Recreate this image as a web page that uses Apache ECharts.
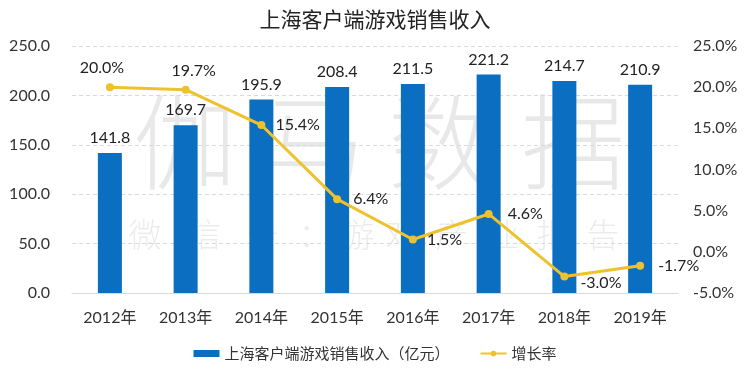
<!DOCTYPE html>
<html><head><meta charset="utf-8">
<script src="https://cdn.jsdelivr.net/npm/echarts@6/dist/echarts.min.js"></script>
<style>html,body{margin:0;padding:0;background:#fff}#c{width:750px;height:377px}</style>
</head><body><div id="c"></div>
<script>
var categories = ['2012年','2013年','2014年','2015年','2016年','2017年','2018年','2019年'];
var revenue = [141.8,169.7,195.9,208.4,211.5,221.2,214.7,210.9];
var growth = [20.0,19.7,15.4,6.4,1.5,4.6,-3.0,-1.7];
var titleText = '上海客户端游戏销售收入';
var revenueName = '上海客户端游戏销售收入（亿元）';
var growthName = '增长率';
var wmBig = ['伽','马','数','据'];
var wmSmall = ['微','信','号','：','游','戏','产','业','报','告'];

var FONT = "Lato, 'Noto Sans CJK SC', sans-serif";
var CJK = "'Noto Sans CJK SC', sans-serif";
var wmBigX = [185,313,440,573];
var wmSmallX = [145,205,263,315,358,402,452,503,553,603];
var graphics = [];
wmBig.forEach(function(ch,i){
  graphics.push({type:'text', z:-10, x:wmBigX[i], y:142, style:{text:ch, fill:'rgba(0,0,0,0.09)', font:'300 104px '+CJK, textAlign:'center', textVerticalAlign:'middle'}});
});
wmSmall.forEach(function(ch,i){
  graphics.push({type:'text', z:-10, x:wmSmallX[i], y:234, style:{text:ch, fill:'rgba(0,0,0,0.08)', font:'300 33px '+CJK, textAlign:'center', textVerticalAlign:'middle'}});
});

var lblPos = [
  {position:'top', distance:7, offset:[-8,0]},
  {position:'top', distance:7, offset:[8,0]},
  {position:'right', distance:10},
  {position:'right', distance:12},
  {position:'right', distance:10},
  {position:'right', distance:15},
  {position:'right', distance:12, offset:[0,6]},
  {position:'right', distance:14}
];
var growthData = growth.map(function(v,i){
  return {value:v, label:lblPos[i]};
});

var chart = echarts.init(document.getElementById('c'));
chart.setOption({
  animation:false,
  backgroundColor:'#fff',
  textStyle:{fontFamily:FONT},
  title:{text:titleText, left:'center', top:4, textStyle:{fontFamily:CJK, fontSize:21, fontWeight:'normal', color:'#222'}},
  graphic: graphics,
  legend:{
    bottom:11, left:'center', itemGap:30,
    textStyle:{fontFamily:CJK, fontSize:15, color:'#333'},
    data:[{name:revenueName, icon:'rect', itemStyle:{}}, {name:growthName}],
    itemWidth:26, itemHeight:7
  },
  grid:{left:72, right:72, top:46, bottom:84},
  xAxis:{
    type:'category', data:categories,
    axisTick:{show:false},
    axisLine:{lineStyle:{color:'#d9d9d9'}},
    axisLabel:{color:'#333', fontSize:16, margin:17, fontFamily:FONT}
  },
  yAxis:[
    {type:'value', min:0, max:250, interval:50,
     axisLabel:{color:'#333', fontSize:16, margin:22, formatter:function(v){return v.toFixed(1);}},
     splitLine:{lineStyle:{color:'#d9d9d9', type:[4,3]}},
     axisLine:{show:false}, axisTick:{show:false}},
    {type:'value', min:-5, max:25, interval:5,
     axisLabel:{color:'#333', fontSize:16, margin:15, formatter:function(v){return v.toFixed(1)+'%';}},
     splitLine:{show:false}, axisLine:{show:false}, axisTick:{show:false}}
  ],
  series:[
    {name:revenueName, type:'bar', data:revenue, barWidth:24, yAxisIndex:0,
     itemStyle:{color:'#0B6EC1'},
     label:{show:true, position:'top', distance:7, color:'#222', fontSize:16, fontFamily:FONT,
       formatter:function(p){return p.value.toFixed(1);}}},
    {name:growthName, type:'line', data:growthData, yAxisIndex:1,
     symbol:'circle', symbolSize:8,
     lineStyle:{color:'#EEC22C', width:3},
     itemStyle:{color:'#EEC22C'},
     label:{show:true, color:'#222', fontSize:16, fontFamily:FONT,
       formatter:function(p){return p.value.toFixed(1)+'%';}}}
  ]
});
</script>
</body></html>
